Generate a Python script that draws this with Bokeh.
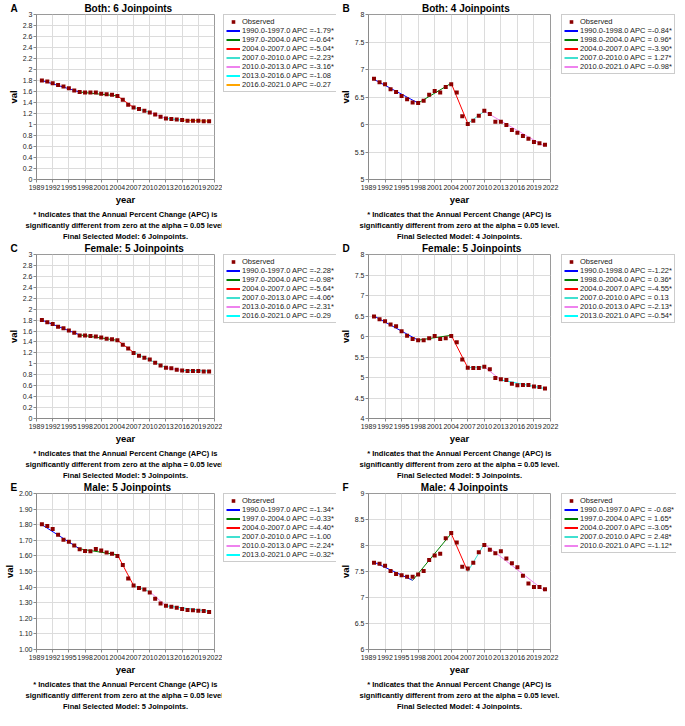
from bokeh.plotting import figure
from bokeh.layouts import gridplot
from bokeh.models import Range1d, FixedTicker, Legend, LegendItem, Title
from bokeh.embed import file_html
from bokeh.resources import INLINE

FONT = "Liberation Sans"
NBSP = "\u00a0"

years = list(range(1990, 2022))
x_ticks = list(range(1989, 2023, 3))
seg_colors = ["#0000FF", "#008000", "#FF0000", "#40E0D0", "#EE82EE", "#00FFFF", "#FFA500"]
note_lines = ["* Indicates that the Annual Percent Change (APC) is",
              "significantly different from zero at the alpha = 0.05 level."]

# ---------- Panel A ----------
A_title = "Both: 6 Joinpoints"
A_obs = [1.80, 1.78, 1.75, 1.72, 1.69, 1.66, 1.62, 1.59, 1.58, 1.58, 1.58, 1.56, 1.55, 1.54, 1.52, 1.45,
         1.36, 1.31, 1.28, 1.25, 1.22, 1.18, 1.14, 1.11, 1.10, 1.09, 1.08, 1.07, 1.07, 1.07, 1.06, 1.06]
A_breaks = [1990, 1997, 2004, 2007, 2010, 2013, 2016, 2021]
A_fit = [1.80, 1.59, 1.52, 1.31, 1.22, 1.11, 1.08, 1.06]
A_labels = ["1990.0-1997.0 APC =-1.79*", "1997.0-2004.0 APC =-0.64*", "2004.0-2007.0 APC =-5.04*",
            "2007.0-2010.0 APC =-2.23*", "2010.0-2013.0 APC =-3.16*", "2013.0-2016.0 APC =-1.08",
            "2016.0-2021.0 APC =-0.27"]
A_yticks = [0, 0.2, 0.4, 0.6, 0.8, 1, 1.2, 1.4, 1.6, 1.8, 2, 2.2, 2.4, 2.6, 2.8, 3]
A_yticklabels = ["0", "0.2", "0.4", "0.6", "0.8", "1", "1.2", "1.4", "1.6", "1.8", "2", "2.2", "2.4", "2.6", "2.8", "3"]

# ---------- Panel B ----------
B_title = "Both: 4 Joinpoints"
B_obs = [6.83, 6.77, 6.73, 6.64, 6.59, 6.52, 6.46, 6.40, 6.39, 6.43, 6.54, 6.61, 6.58, 6.68, 6.73, 6.58,
         6.15, 6.01, 6.07, 6.16, 6.25, 6.19, 6.05, 6.05, 5.99, 5.90, 5.85, 5.79, 5.74, 5.68, 5.66, 5.63]
B_breaks = [1990, 1998, 2004, 2007, 2010, 2021]
B_fit = [6.82, 6.39, 6.75, 6.02, 6.24, 5.60]
B_labels = ["1990.0-1998.0 APC =-0.84*", "1998.0-2004.0 APC = 0.96*", "2004.0-2007.0 APC =-3.90*",
            "2007.0-2010.0 APC = 1.27*", "2010.0-2021.0 APC =-0.98*"]
B_yticks = [5, 5.5, 6, 6.5, 7, 7.5, 8]
B_yticklabels = ["5", "5.5", "6", "6.5", "7", "7.5", "8"]

# ---------- Panel C ----------
C_title = "Female: 5 Joinpoints"
C_obs = [1.80, 1.76, 1.73, 1.68, 1.65, 1.61, 1.57, 1.52, 1.52, 1.51, 1.50, 1.48, 1.46, 1.45, 1.43, 1.35,
         1.28, 1.20, 1.15, 1.11, 1.08, 1.02, 0.97, 0.93, 0.92, 0.89, 0.88, 0.87, 0.87, 0.87, 0.86, 0.86]
C_breaks = [1990, 1997, 2004, 2007, 2013, 2016, 2021]
C_fit = [1.80, 1.53, 1.43, 1.21, 0.93, 0.88, 0.87]
C_labels = ["1990.0-1997.0 APC =-2.28*", "1997.0-2004.0 APC =-0.98*", "2004.0-2007.0 APC =-5.64*",
            "2007.0-2013.0 APC =-4.06*", "2013.0-2016.0 APC =-2.31*", "2016.0-2021.0 APC =-0.29"]
C_yticks = A_yticks
C_yticklabels = A_yticklabels

# ---------- Panel D ----------
D_title = "Female: 5 Joinpoints"
D_obs = [6.49, 6.42, 6.37, 6.29, 6.25, 6.13, 6.02, 5.94, 5.91, 5.91, 5.96, 6.01, 5.94, 5.96, 6.01, 5.86,
         5.44, 5.24, 5.23, 5.23, 5.26, 5.20, 4.99, 4.96, 4.94, 4.85, 4.81, 4.82, 4.82, 4.78, 4.77, 4.73]
D_breaks = [1990, 1998, 2004, 2007, 2010, 2013, 2021]
D_fit = [6.50, 5.91, 6.03, 5.24, 5.26, 4.94, 4.73]
D_labels = ["1990.0-1998.0 APC =-1.22*", "1998.0-2004.0 APC = 0.36*", "2004.0-2007.0 APC =-4.55*",
            "2007.0-2010.0 APC = 0.13", "2010.0-2013.0 APC =-2.13*", "2013.0-2021.0 APC =-0.54*"]
D_yticks = [4, 4.5, 5, 5.5, 6, 6.5, 7, 7.5, 8]
D_yticklabels = ["4", "4.5", "5", "5.5", "6", "6.5", "7", "7.5", "8"]

# ---------- Panel E ----------
E_title = "Male: 5 Joinpoints"
E_obs = [1.803, 1.791, 1.772, 1.736, 1.703, 1.691, 1.667, 1.642, 1.632, 1.630, 1.644, 1.634, 1.622, 1.614,
         1.600, 1.541, 1.455, 1.411, 1.394, 1.384, 1.366, 1.325, 1.295, 1.280, 1.274, 1.268, 1.260, 1.254,
         1.252, 1.248, 1.246, 1.240]
E_breaks = [1990, 1997, 2004, 2007, 2010, 2013, 2021]
E_fit = [1.800, 1.645, 1.607, 1.410, 1.370, 1.280, 1.245]
E_labels = ["1990.0-1997.0 APC =-1.34*", "1997.0-2004.0 APC =-0.33*", "2004.0-2007.0 APC =-4.40*",
            "2007.0-2010.0 APC =-1.00", "2010.0-2013.0 APC =-2.24*", "2013.0-2021.0 APC =-0.32*"]
E_yticks = [1, 1.1, 1.2, 1.3, 1.4, 1.5, 1.6, 1.7, 1.8, 1.9, 2]
E_yticklabels = ["1.00", "1.10", "1.20", "1.30", "1.40", "1.50", "1.60", "1.70", "1.80", "1.90", "2.00"]

# ---------- Panel F ----------
F_title = "Male: 4 Joinpoints"
F_obs = [7.67, 7.65, 7.61, 7.51, 7.45, 7.43, 7.40, 7.40, 7.44, 7.51, 7.72, 7.81, 7.84, 8.14, 8.24, 8.06,
         7.59, 7.56, 7.67, 7.87, 8.01, 7.92, 7.85, 7.89, 7.75, 7.66, 7.58, 7.42, 7.27, 7.20, 7.20, 7.16]
F_breaks = [1990, 1997, 2004, 2007, 2010, 2021]
F_fit = [7.68, 7.33, 8.23, 7.50, 8.03, 7.12]
F_labels = ["1990.0-1997.0 APC = -0.68*", "1997.0-2004.0 APC = 1.65*", "2004.0-2007.0 APC =-3.05*",
            "2007.0-2010.0 APC = 2.48*", "2010.0-2021.0 APC =-1.12*"]
F_yticks = [6, 6.5, 7, 7.5, 8, 8.5, 9]
F_yticklabels = ["6", "6.5", "7", "7.5", "8", "8.5", "9"]

TOP = 14


def make_panel(letter, title, obs, breaks, fit, yticks, yticklabels, width, height, bottom, nj, gap):
    p = figure(width=width, height=height, x_range=Range1d(1989, 2022),
               y_range=Range1d(yticks[0], yticks[-1]),
               output_backend="svg", toolbar_location=None,
               min_border_left=28, min_border_top=TOP, min_border_bottom=bottom,
               min_border_right=width - 28 - 186)
    p.outline_line_color = "#9a9a9a"
    p.background_fill_color = "white"
    p.border_fill_color = "white"

    # title line: panel letter at the left, panel title further right
    p.title.text = letter + NBSP * gap + title
    p.title.align = "left"
    p.title.offset = -26
    p.title.standoff = 1
    p.title.text_font = FONT
    p.title.text_font_size = "10px"
    p.title.text_font_style = "bold"
    p.title.text_color = "black"

    p.xaxis.ticker = FixedTicker(ticks=x_ticks)
    p.yaxis.ticker = FixedTicker(ticks=yticks)
    p.yaxis.major_label_overrides = {t: l for t, l in zip(yticks, yticklabels)}
    for ax in (p.xaxis[0], p.yaxis[0]):
        ax.axis_line_color = "#8a8a8a"
        ax.major_tick_line_color = "#8a8a8a"
        ax.major_tick_out = 3
        ax.major_tick_in = 0
        ax.minor_tick_line_color = None
        ax.major_label_text_font = FONT
        ax.major_label_text_font_size = "7px"
        ax.major_label_text_color = "#222222"
        ax.major_label_standoff = 1
        ax.axis_label_text_font = FONT
        ax.axis_label_text_font_size = "9.5px"
        ax.axis_label_text_font_style = "bold"
        ax.axis_label_text_color = "black"
        ax.axis_label_standoff = 1
    p.xaxis.major_label_standoff = 2
    p.xaxis.axis_label = "year"
    p.yaxis.axis_label = "val"
    p.xgrid.ticker = FixedTicker(ticks=x_ticks)
    p.ygrid.ticker = FixedTicker(ticks=yticks)
    p.xgrid.grid_line_color = "#dcdcdc"
    p.ygrid.grid_line_color = "#dcdcdc"

    for i in range(len(breaks) - 1):
        p.line([breaks[i], breaks[i + 1]], [fit[i], fit[i + 1]], line_color=seg_colors[i], line_width=1)
    p.scatter(years, obs, marker="square", size=4, fill_color="#8B0000", line_alpha=0)

    notes = note_lines + ["Final Selected Model: %d Joinpoints." % nj]
    for t in notes:
        p.add_layout(Title(text=t, align="center", standoff=0, text_font=FONT,
                           text_font_size="7.5px", text_font_style="bold", text_color="black"), "below")
    return p


def make_legend(obs, breaks, fit, labels, width, height, bottom):
    # legend-only figure: proxies use the panel's own data, which falls outside this figure's 0..1 ranges
    lf = figure(width=width, height=height, x_range=Range1d(0, 1), y_range=Range1d(0, 1),
                x_axis_type=None, y_axis_type=None, output_backend="svg", toolbar_location=None,
                min_border_left=1, min_border_top=TOP, min_border_bottom=bottom, min_border_right=0)
    lf.outline_line_color = None
    lf.background_fill_color = "white"
    lf.border_fill_color = "white"
    items = []
    r_obs = lf.scatter(years, obs, marker="square", size=4, fill_color="#8B0000", line_alpha=0)
    items.append(LegendItem(label="Observed", renderers=[r_obs], index=0))
    for i in range(len(breaks) - 1):
        r = lf.line([breaks[i], breaks[i + 1]], [fit[i], fit[i + 1]], line_color=seg_colors[i], line_width=2)
        items.append(LegendItem(label=labels[i], renderers=[r]))
    legend = Legend(items=items, location="top_left")
    legend.label_text_font = FONT
    legend.label_text_font_size = "7.5px"
    legend.label_text_color = "#222222"
    legend.label_height = 9
    legend.glyph_height = 9
    legend.glyph_width = 14
    legend.label_standoff = 2
    legend.spacing = 0
    legend.padding = 2
    legend.margin = 0
    legend.border_line_color = "#9a9a9a"
    legend.border_line_width = 1
    legend.background_fill_color = "white"
    legend.background_fill_alpha = 1
    lf.add_layout(legend)
    return lf


pA = make_panel("A", A_title, A_obs, A_breaks, A_fit, A_yticks, A_yticklabels, 222, 240, 57, 6, 24)
lA = make_legend(A_obs, A_breaks, A_fit, A_labels, 114, 240, 57)
pB = make_panel("B", B_title, B_obs, B_breaks, B_fit, B_yticks, B_yticklabels, 224, 240, 57, 4, 26)
lB = make_legend(B_obs, B_breaks, B_fit, B_labels, 116, 240, 57)
pC = make_panel("C", C_title, C_obs, C_breaks, C_fit, C_yticks, C_yticklabels, 222, 239, 56, 5, 24)
lC = make_legend(C_obs, C_breaks, C_fit, C_labels, 114, 239, 56)
pD = make_panel("D", D_title, D_obs, D_breaks, D_fit, D_yticks, D_yticklabels, 224, 239, 56, 5, 26)
lD = make_legend(D_obs, D_breaks, D_fit, D_labels, 116, 239, 56)
pE = make_panel("E", E_title, E_obs, E_breaks, E_fit, E_yticks, E_yticklabels, 222, 231, 52, 5, 24)
lE = make_legend(E_obs, E_breaks, E_fit, E_labels, 114, 231, 52)
pF = make_panel("F", F_title, F_obs, F_breaks, F_fit, F_yticks, F_yticklabels, 224, 231, 52, 4, 26)
lF = make_legend(F_obs, F_breaks, F_fit, F_labels, 116, 231, 52)

grid = gridplot([[pA, lA, pB, lB], [pC, lC, pD, lD], [pE, lE, pF, lF]], toolbar_location=None)

open("out.html", "w").write(file_html(grid, INLINE))
